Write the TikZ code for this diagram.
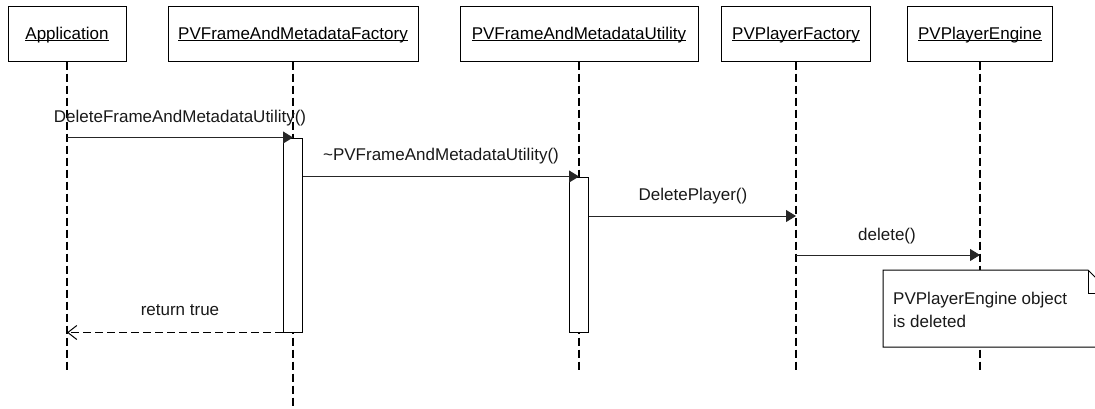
\documentclass[tikz,border=0pt]{standalone}
\usepackage{fontspec}
\setmainfont{Liberation Sans}
\usetikzlibrary{arrows.meta}
\newcommand{\myul}[1]{\setbox0\hbox{#1}\rlap{\rule[-1.8pt]{\wd0}{0.9pt}}\box0}
\begin{document}
\begin{tikzpicture}[x=1pt,y=-1pt,
  txt/.style={font=\fontsize{17}{20}\selectfont},
  obj/.style={draw=black, fill=white, line width=1pt, minimum height=55pt, inner sep=0pt,
    text height=11pt, text depth=0pt, txt},
  life/.style={draw=black, line width=1.7pt, dash pattern=on 8pt off 4pt},
  act/.style={draw=black, fill=white, line width=1pt, inner sep=0pt, minimum width=19pt},
  msg/.style={draw=black!85, line width=1pt, -{Triangle[length=10pt,width=12pt]}},
  ret/.style={draw=black, line width=1.7pt, dash pattern=on 8pt off 4pt,
    -{Straight Barb[length=9pt,width=14pt,line width=1pt]}},
  lbl/.style={txt, anchor=base, inner sep=0pt, text=black!90},
  notebox/.style={draw=black, fill=white, line width=1pt},
]
\useasboundingbox (0,0) rectangle (1095,408);
\clip (0,0) rectangle (1095,408);

% objects
\node[obj, minimum width=118pt] (app)  at (67,33.5)  {\myul{Application}};
\node[obj, minimum width=250pt] (fact) at (293,33.5) {\myul{PVFrameAndMetadataFactory}};
\node[obj, minimum width=238pt] (util) at (579,33.5) {\myul{PVFrameAndMetadataUtility}};
\node[obj, minimum width=149pt] (pf)   at (796,33.5) {\myul{PVPlayerFactory}};
\node[obj, minimum width=145pt] (eng)  at (980,33.5) {\myul{PVPlayerEngine}};

% lifeline ends
\coordinate (append)  at (67,372);
\coordinate (factend) at (293,408);
\coordinate (utilend) at (579,372);
\coordinate (pfend)   at (796,372);
\coordinate (engend)  at (980,372);

\draw[life] (app.south)  -- (append);
\draw[life] (fact.south) -- (factend);
\draw[life] (util.south) -- (utilend);
\draw[life] (pf.south)   -- (pfend);
\draw[life] (eng.south)  -- (engend);

% activations
\node[act, minimum height=194pt] (fa) at (292.5,235) {};
\node[act, minimum height=155pt] (ua) at (579,254.5) {};

% message rows
\coordinate (m3) at (0,216);
\coordinate (m4) at (0,255);

\draw[msg] (app |- fa.north) -- (fact |- fa.north);
\draw[msg] (fa.east |- ua.north) -- (util |- ua.north);
\draw[msg] (ua.east |- m3) -- (pf |- m3);
\draw[msg] (pf |- m4) -- (eng |- m4);
\draw[ret] (fa.south west) -- (app |- fa.south);

% labels
\node[lbl] (l1) at (180,122) {DeleteFrameAndMetadataUtility()};
\node[lbl] (l2) at (441,160) {\textasciitilde PVFrameAndMetadataUtility()};
\node[lbl] (l3) at (693,200) {DeletePlayer()};
\node[lbl] (l4) at (887,240) {delete()};
\node[lbl] (l5) at (180,315) {return true};

% note
\draw[notebox] (883,270) -- (1088,270) -- (1111,293) -- (1111,347) -- (883,347) -- cycle;
\draw[line width=1pt] (1088,270) -- (1088,293) -- (1111,293);
\node[lbl, anchor=base west] (n1) at (893,304) {PVPlayerEngine object};
\node[lbl, anchor=base west] (n2) at (893,327) {is deleted};
\end{tikzpicture}
\end{document}
